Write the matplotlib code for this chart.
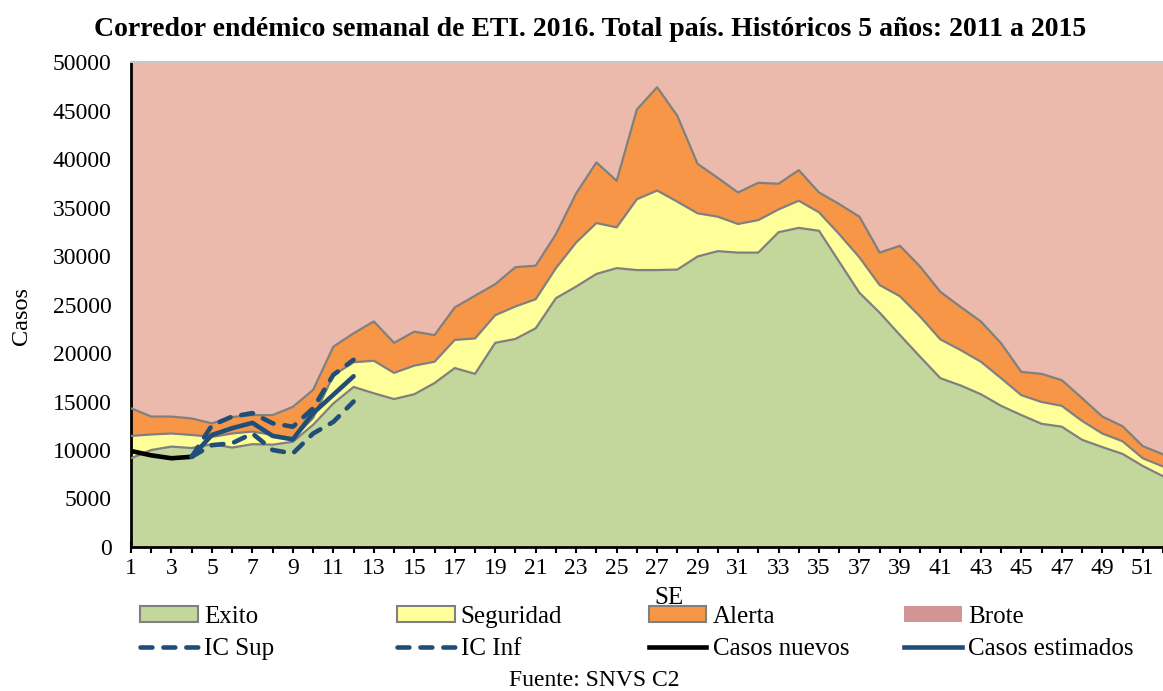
import matplotlib
matplotlib.use("Agg")
import matplotlib.pyplot as plt
from matplotlib.patches import Patch
from matplotlib.lines import Line2D
import numpy as np

plt.rcParams['font.family'] = ['Liberation Serif', 'DejaVu Serif']

weeks = list(range(1, 53))
exito = [9150, 10000, 10350, 10200, 10600, 10250, 10600, 10550, 10850, 12600,
         14800, 16500, 15850, 15250, 15750, 16900, 18450, 17850, 21050, 21450,
         22550, 25650, 26850, 28150, 28750, 28550, 28550, 28600, 29950, 30500,
         30350, 30350, 32450, 32900, 32600, 29400, 26200, 24150, 21850, 19600,
         17400, 16650, 15750, 14550, 13600, 12700, 12400, 11050, 10300, 9600,
         8350, 7300]
seguridad = [11450, 11600, 11700, 11550, 11350, 11700, 11900, 11550, 11200, 13300,
             17700, 19050, 19200, 17950, 18700, 19100, 21350, 21500, 23900, 24800,
             25550, 28750, 31400, 33400, 32950, 35850, 36750, 35600, 34400, 34050,
             33300, 33700, 34800, 35700, 34500, 32250, 29850, 27000, 25850, 23750,
             21400, 20300, 19100, 17400, 15650, 14950, 14550, 13000, 11700, 10900,
             9150, 8300]
alerta = [14300, 13450, 13450, 13250, 12750, 13400, 13600, 13600, 14450, 16200,
          20650, 22030, 23250, 21050, 22200, 21850, 24700, 25900, 27100, 28850,
          29000, 32250, 36450, 39650, 37750, 45100, 47400, 44450, 39500, 38050,
          36550, 37550, 37450, 38850, 36550, 35350, 34050, 30350, 31050, 28900,
          26300, 24750, 23250, 21000, 18050, 17850, 17200, 15350, 13450, 12450,
          10400, 9550]
brote_top = 50000

nuevos_weeks = [1, 2, 3, 4]
casos_nuevos = [9900, 9450, 9150, 9300]
est_weeks = [4, 5, 6, 7, 8, 9, 10, 11, 12]
casos_estimados = [9300, 11550, 12250, 12800, 11450, 11100, 13800, 15700, 17600]
ic_sup = [9300, 12550, 13450, 13800, 12750, 12400, 14300, 17750, 19300]
ic_inf = [9300, 10500, 10700, 11700, 10000, 9650, 11700, 12900, 15000]

title = "Corredor endémico semanal de ETI. 2016. Total país. Históricos 5 años: 2011 a 2015"

c_exito = '#C3D69B'
c_seg = '#FFFF99'
c_alerta = '#F79646'
c_brote = '#ECBAAC'
c_brote_leg = '#D29593'
c_edge = '#808080'
c_blue = '#1F4E79'

W, H = 1163, 691
fig = plt.figure(figsize=(W / 100, H / 100), dpi=100)
ax = fig.add_axes([131 / W, 1 - 547 / H, (W - 131) / W, 485 / H])
ax.set_facecolor(c_brote)
ax.set_axisbelow(True)
ax.yaxis.grid(True, color='#D3C8C4', linestyle=(0, (4, 3)), linewidth=1.2)

x = np.array(weeks)
ax.fill_between(x, alerta, brote_top, color=c_brote, lw=0)
ax.fill_between(x, seguridad, alerta, color=c_alerta, lw=0)
ax.fill_between(x, exito, seguridad, color=c_seg, lw=0)
ax.fill_between(x, 0, exito, color=c_exito, lw=0)
for s in (exito, seguridad, alerta):
    ax.plot(x, s, color=c_edge, lw=1.6, zorder=3)

ax.plot(nuevos_weeks, casos_nuevos, color='black', lw=3.3, zorder=5, solid_capstyle='round')
ax.plot(est_weeks, casos_estimados, color=c_blue, lw=3.3, zorder=5, solid_capstyle='round')
ax.plot(est_weeks, ic_sup, color=c_blue, lw=3.3, zorder=5, dash_capstyle='round',
        linestyle=(0, (2.6, 2.4)))
ax.plot(est_weeks, ic_inf, color=c_blue, lw=3.3, zorder=5, dash_capstyle='round',
        linestyle=(0, (2.6, 2.4)))

ax.set_xlim(1, 1 + (W - 131) / 20.35)
ax.set_ylim(0, 50000)
ax.set_xticks(weeks)
ax.set_xticklabels([str(w) if w % 2 == 1 else '' for w in weeks])
ax.set_yticks(range(0, 50001, 5000))
ax.tick_params(axis='x', direction='inout', length=8, width=1.5, labelsize=17, pad=4)
ax.tick_params(axis='y', direction='in', length=5, width=1.5, labelsize=17, pad=14)
for sp in ('left', 'bottom'):
    ax.spines[sp].set_color('black')
    ax.spines[sp].set_linewidth(2)
ax.spines['top'].set_color('#C8C8C8')
ax.spines['top'].set_linewidth(1.5)
ax.spines['right'].set_visible(False)

fig.text(590 / W, 1 - 30 / H, title, ha='center', va='center', fontsize=20, fontweight='bold')
fig.text(22 / W, 1 - 316 / H, 'Casos', rotation=90, ha='center', va='center', fontsize=17.5)
fig.text(669 / W, 1 - 598 / H, 'SE', ha='center', va='center', fontsize=18)
fig.text(594 / W, 1 - 681 / H, 'Fuente: SNVS C2', ha='center', va='center', fontsize=17)

dash = (0, (2.6, 2.4))
cols = [
    (140, Patch(facecolor=c_exito, edgecolor=c_edge, lw=1.5), 'Exito',
     Line2D([], [], color=c_blue, lw=3.3, linestyle=dash, dash_capstyle='round'), 'IC Sup'),
    (397, Patch(facecolor=c_seg, edgecolor=c_edge, lw=1.5), 'Seguridad',
     Line2D([], [], color=c_blue, lw=3.3, linestyle=dash, dash_capstyle='round'), 'IC Inf'),
    (649, Patch(facecolor=c_alerta, edgecolor=c_edge, lw=1.5), 'Alerta',
     Line2D([], [], color='black', lw=3.3), 'Casos nuevos'),
    (904, Patch(facecolor=c_brote_leg, edgecolor='none'), 'Brote',
     Line2D([], [], color=c_blue, lw=3.3), 'Casos estimados'),
]
for xpx, h1, l1, h2, l2 in cols:
    fig.legend([h1, h2], [l1, l2], loc='center left',
               bbox_to_anchor=(xpx / W, 1 - 633 / H), frameon=False,
               fontsize=18, handlelength=2.3, handleheight=0.6,
               handletextpad=0.25, borderpad=0, borderaxespad=0,
               labelspacing=0.42)

fig.savefig('out.png', dpi=100)
